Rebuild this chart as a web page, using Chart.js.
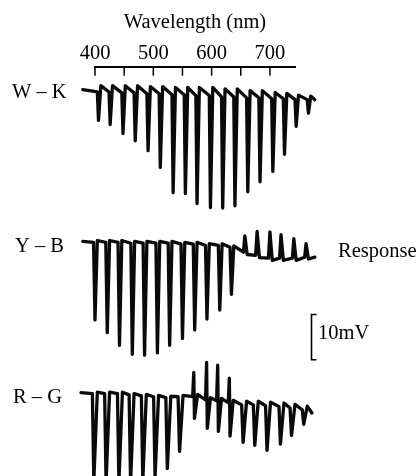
<!DOCTYPE html>
<html>
<head>
<meta charset="utf-8">
<script src="https://cdn.jsdelivr.net/npm/chart.js@4/dist/chart.umd.min.js"></script>
<style>
  html, body { margin: 0; padding: 0; background: #fff; }
  canvas { display: block; }
</style>
</head>
<body>
<canvas id="traces" width="420" height="476"></canvas>
<script>
// Rows (cell types) and axis labels
const rowNames = ['W – K', 'Y – B', 'R – G'];
const tickLabels = [400, 500, 600, 700];
const scaleBarMv = 10;

// W-K: stimulus wavelength (nm), baseline (mV, stacked), response (mV)
const wkWave = [406, 426, 448, 469, 491, 512, 534, 555, 575, 598, 619, 640, 662, 683, 705, 725, 745, 766];
const wkBase = [-5.6, -5.6, -5.8, -5.8, -6.0, -6.0, -6.2, -6.2, -6.4, -6.4, -6.7, -6.7, -6.9, -6.9, -7.1, -7.1, -7.3, -7.3];
const wkPeak = [-6.3, -7.2, -9.0, -10.6, -12.6, -16.3, -21.7, -21.9, -23.9, -24.8, -24.6, -24.1, -20.8, -18.6, -16.1, -12.3, -5.9, -3.0];
const wkRebound = [1.4, 1.4, 1.6, 1.6, 1.6, 1.6, 1.6, 1.6, 1.8, 1.8, 1.8, 1.8, 1.6, 1.6, 1.4, 1.2, 1.0, 0.8];
const wkEnds = [[379, -5.1], [777, -7.3]];

// Y-B
const ybWave = [400, 421, 442, 464, 485, 507, 528, 550, 571, 592, 614, 634, 657, 678, 700, 719, 741, 762];
const ybBase = [-38.9, -38.9, -38.9, -39.1, -39.1, -39.1, -39.1, -39.3, -39.3, -39.6, -39.6, -40.0, -41.1, -41.8, -42.4, -42.4, -42.4, -42.2];
const ybPeak = [-17.2, -20.0, -22.8, -24.6, -24.8, -24.3, -22.6, -20.9, -19.0, -16.3, -14.3, -10.4, 0, 0, 0, 0, 0, 0];
const ybUp = [0, 0, 0, 0, 0, 0, 0, 0, 0, 0, 0, 0, 3.6, 5.3, 5.8, 5.2, 4.3, 3.0];
const ybRebound = [0.4, 0.4, 0.4, 0.4, 0.4, 0.4, 0.4, 0.4, 0.4, 0.4, 0.4, 0.3, -0.5, -0.5, -0.5, -0.5, -0.5, -0.4];
const ybEnds = [[379, -38.7], [777, -42.2]];

// R-G
const rgWave = [398, 419, 441, 461, 482, 503, 524, 545, 570, 592, 611, 631, 654, 674, 695, 718, 737, 758];
const rgBase = [-72.4, -72.4, -72.4, -72.7, -72.9, -73.1, -73.3, -73.1, -73.1, -73.8, -74.0, -74.4, -74.9, -74.9, -75.1, -75.3, -75.6, -76.0];
const rgPeak = [-19.2, -19.7, -19.7, -19.4, -18.8, -17.7, -15.7, -12.1, -4.8, -6.3, -6.8, -7.4, -8.3, -9.0, -9.9, -8.3, -6.1, -3.2];
const rgUp = [0, 0, 0, 0, 0, 0, 0, 0, 5.4, 8.3, 7.9, 5.4, 0, 0, 0, 0, 0, 0];
const rgRebound = [0.3, 0.3, 0.3, 0.3, 0.3, 0.3, 0.3, 0.3, 0.5, 0.5, 0.5, 0.5, 0.8, 0.8, 0.8, 0.8, 0.8, 0.8];
const rgEnds = [[376, -72.2], [772, -76.7]];

const waveMin = 400;
const waveMax = 743;

// turn stimulus responses into a trace: baseline -> spike tip(s) -> rebound
function trace(wave, base, peak, up, rebound, ends, shape) {
    const pts = [{ x: ends[0][0], y: ends[0][1] }];
    wave.forEach((w, i) => {
        pts.push({ x: w - shape.pre, y: base[i] });
        if (up[i]) pts.push({ x: peak[i] ? w - 0.6 : w, y: base[i] + up[i] });
        if (peak[i]) pts.push({ x: up[i] ? w + 0.6 : w, y: base[i] + peak[i] });
        pts.push({ x: w + shape.post, y: base[i] + rebound[i] });
    });
    pts.push({ x: ends[1][0], y: ends[1][1] });
    return pts;
}

const serif = '"Liberation Serif", "Times New Roman", serif';

const annotate = {
    id: 'annotate',
    afterDraw(chart) {
        const { ctx, chartArea, scales } = chart;
        ctx.save();
        ctx.strokeStyle = '#000';
        ctx.fillStyle = '#000';

        // tick marks pointing down from the wavelength axis
        ctx.lineWidth = 1.5;
        scales.x.ticks.forEach(t => {
            const px = scales.x.getPixelForValue(t.value);
            ctx.beginPath();
            ctx.moveTo(px, chartArea.top);
            ctx.lineTo(px, chartArea.top + 9);
            ctx.stroke();
        });

        ctx.font = '20.5px ' + serif;
        ctx.textBaseline = 'middle';
        ctx.textAlign = 'left';
        const rowPos = [[12, 93], [15, 247], [13, 398]];
        rowNames.forEach((name, i) => ctx.fillText(name, rowPos[i][0], rowPos[i][1]));
        ctx.fillText('Response', 338, 252);

        // 10 mV scale bar
        const yTop = scales.y.getPixelForValue(-54.9);
        const yBot = scales.y.getPixelForValue(-54.9 - scaleBarMv);
        ctx.lineWidth = 1.6;
        ctx.beginPath();
        ctx.moveTo(316.5, yTop);
        ctx.lineTo(311.5, yTop);
        ctx.lineTo(311.5, yBot);
        ctx.lineTo(316.5, yBot);
        ctx.stroke();
        ctx.fillText(scaleBarMv + 'mV', 318, 334);
        ctx.restore();
    }
};

const lineStyle = {
    borderColor: '#0a0a0a',
    borderWidth: 3.3,
    pointRadius: 0,
    tension: 0,
    borderJoinStyle: 'round',
    borderCapStyle: 'round',
    clip: false,
    xAxisID: 'xd'
};

const ctx = document.getElementById('traces').getContext('2d');
const chart = new Chart(ctx, {
    type: 'line',
    data: {
        datasets: [
            { label: rowNames[0], data: trace(wkWave, wkBase, wkPeak, [], wkRebound, wkEnds, { pre: 2, post: 4 }), ...lineStyle },
            { label: rowNames[1], data: trace(ybWave, ybBase, ybPeak, ybUp, ybRebound, ybEnds, { pre: 2.5, post: 4 }), ...lineStyle },
            { label: rowNames[2], data: trace(rgWave, rgBase, rgPeak, rgUp, rgRebound, rgEnds, { pre: 2.5, post: 6 }), ...lineStyle }
        ]
    },
    options: {
        responsive: false,
        animation: false,
        devicePixelRatio: 1,
        layout: { padding: { left: 95, right: 125, top: 8.5, bottom: 3 } },
        plugins: { legend: { display: false }, tooltip: { enabled: false } },
        scales: {
            // visible wavelength axis
            x: {
                type: 'linear',
                position: 'top',
                min: waveMin,
                max: waveMax,
                grid: { drawOnChartArea: false, drawTicks: false },
                border: { display: true, color: '#000', width: 2 },
                ticks: {
                    stepSize: 50,
                    includeBounds: false,
                    autoSkip: false,
                    maxRotation: 0,
                    minRotation: 0,
                    padding: 1,
                    color: '#000',
                    font: { family: serif, size: 20.5 },
                    callback: v => tickLabels.includes(v) ? String(v) : ''
                },
                title: {
                    display: true,
                    text: 'Wavelength (nm)',
                    color: '#000',
                    font: { family: serif, size: 20.5 },
                    padding: { top: 2, bottom: 5 }
                }
            },
            // same range, hidden; range set after data limits so traces run past the axis ends
            xd: {
                type: 'linear',
                position: 'top',
                display: false,
                bounds: 'data',
                afterDataLimits: s => { s.min = waveMin; s.max = waveMax; }
            },
            y: {
                type: 'linear',
                display: false,
                min: -90,
                max: 0
            }
        }
    },
    plugins: [annotate]
});
</script>
</body>
</html>
